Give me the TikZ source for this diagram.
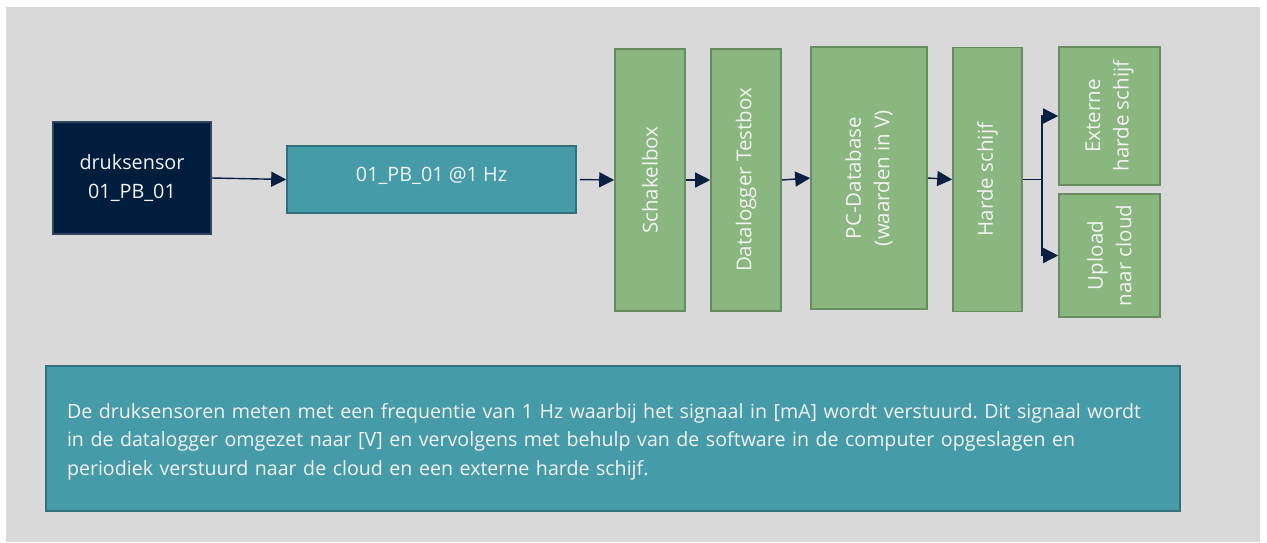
\documentclass[tikz,border=0pt]{standalone}
\usepackage{fontspec}
\setmainfont{Open Sans}
\usetikzlibrary{arrows.meta}
\definecolor{bgc}{RGB}{217,217,217}
\definecolor{navyfill}{RGB}{0,29,61}
\definecolor{navyline}{RGB}{52,68,92}
\definecolor{tealfill}{RGB}{70,155,168}
\definecolor{tealline}{RGB}{50,113,124}
\definecolor{greenfill}{RGB}{138,182,127}
\definecolor{greenline}{RGB}{104,140,95}
\definecolor{arrowc}{RGB}{10,32,66}
\definecolor{txt}{RGB}{243,243,243}
\frenchspacing
\begin{document}
\begin{tikzpicture}[x=1pt,y=-1pt,
  box/.style={draw, line width=1.6pt, inner sep=0pt, text=txt, align=center,
    font=\fontsize{19.8}{28.5}\selectfont},
  navybox/.style={box, fill=navyfill, draw=navyline},
  tealbox/.style={box, fill=tealfill, draw=tealline},
  greenbox/.style={box, fill=greenfill, draw=greenline},
  vlabel/.style={rotate=90, text=txt, align=center, inner sep=0pt,
    font=\fontsize{20.5}{28.5}\selectfont},
  flow/.style={draw=arrowc, line width=1.4pt,
    -{Triangle[length=15pt,width=15pt]}}
]
\useasboundingbox (0,0) rectangle (1267,542);
\fill[white] (0,0) rectangle (1267,542);
\fill[bgc] (6,7) rectangle (1260,542);

% source and signal
\node[navybox, minimum width=158pt, minimum height=112pt] (sensor) at (132,178)
  {druksensor\\01\_PB\_01};
\node[tealbox, minimum width=289pt, minimum height=67pt] (pb) at (431.5,179.5) {};
\node[text=txt, inner sep=0pt, font=\fontsize{19.8}{28.5}\selectfont] (pbtxt) at (431.5,175.5)
  {01\_PB\_01 @1 Hz};

% processing chain
\node[greenbox, minimum width=70pt, minimum height=262pt] (schakel) at (650,180) {};
\node[vlabel] (schakeltxt) at (schakel) {Schakelbox};
\node[greenbox, minimum width=70pt, minimum height=262pt] (logger) at (746,180) {};
\node[vlabel] (loggertxt) at (logger) {Datalogger Testbox};
\node[greenbox, minimum width=116pt, minimum height=262pt] (pcdb) at (869,178) {};
\node[vlabel] (pcdbtxt) at (pcdb) {PC-Database\\(waarden in V)};
\node[greenbox, minimum width=69pt, minimum height=264pt] (harde) at (987.5,179.5) {};
\node[vlabel] (hardetxt) at (harde) {Harde schijf};
\node[greenbox, minimum width=101pt, minimum height=138pt] (ext) at (1109.5,116) {};
\node[vlabel] (exttxt) at (ext) {Externe\\harde schijf};
\node[greenbox, minimum width=101pt, minimum height=123pt] (upload) at (1109.5,255.5) {};
\node[vlabel] (uploadtxt) at (upload) {Upload\\naar cloud};

% connectors
\draw[flow] (sensor.east) -- (pb.west);
\draw[flow, shorten <=3pt] (pb.east) -- (schakel.west);
\draw[flow] (schakel.east) -- (logger.west);
\draw[flow] (logger.east) -- (pcdb.west);
\draw[flow] (pcdb.east) -- (harde.west);
\coordinate (split) at ([xshift=19pt]harde.east);
\draw[draw=arrowc, line width=1.4pt] (harde.east) -- (split);
\draw[flow] (split) |- (ext.west);
\draw[flow] (split) |- (upload.west);

% description
\node[tealbox, minimum width=1134pt, minimum height=145pt] (note) at (613,438.5) {};
\node[text=txt, inner sep=0pt, text width=1092pt, align=left,
  font=\fontsize{19.6}{28.5}\selectfont] (notetxt) at (613,441.5)
  {De druksensoren meten met een frequentie van 1 Hz waarbij het signaal in [mA] wordt verstuurd. Dit signaal wordt\\
   in de datalogger omgezet naar [V] en vervolgens met behulp van de software in de computer opgeslagen en\\
   periodiek verstuurd naar de cloud en een externe harde schijf.};
\end{tikzpicture}
\end{document}
